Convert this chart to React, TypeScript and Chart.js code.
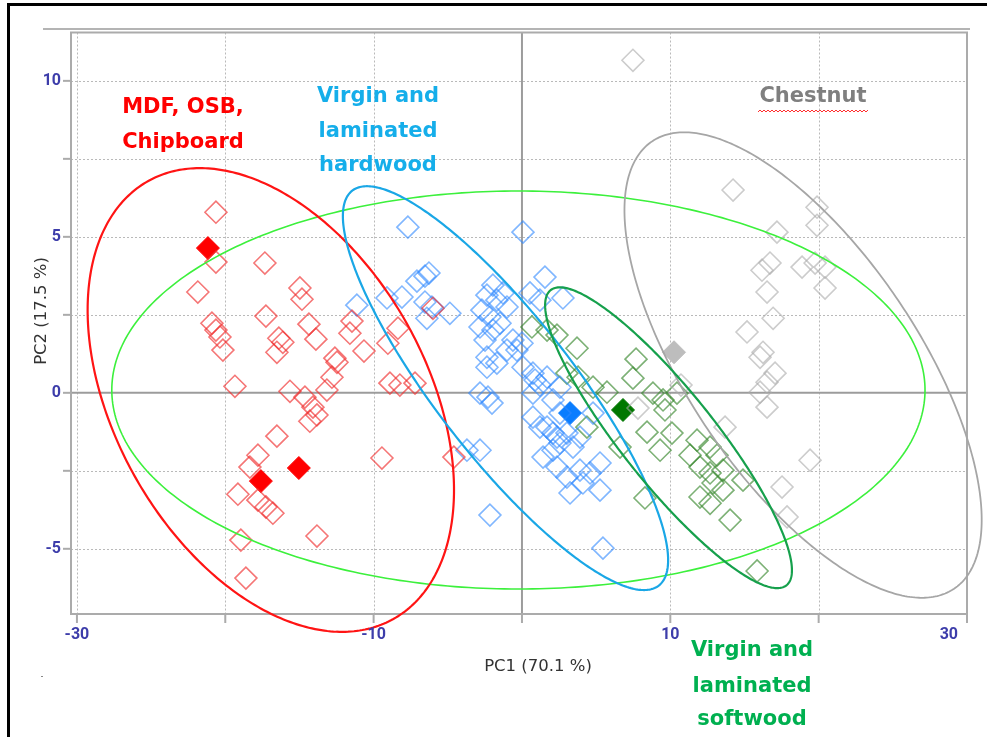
import React, { useEffect, useRef } from 'react';
import { Chart, registerables } from 'chart.js';

Chart.register(...registerables);

// ---- axis ticks ----
const X_TICKS = [-30, -20, -10, 0, 10, 20, 30];
const X_LABELS = [-30, -10, 10, 30];
const Y_TICKS = [-5, -2.5, 0, 2.5, 5, 7.5, 10];
const Y_LABELS = [-5, 0, 5, 10];
const X_RANGE = [-30.4, 30];
const Y_RANGE = [-7.09, 11.55];

// ---- scores (PC1, PC2) ----
const redPoints: [number, number][] = [
  [-20.63, 5.79], [-20.63, 4.19], [-21.85, 3.23], [-17.33, 4.16], [-14.97, 3.36], [-14.83, 3.0],
  [-17.26, 2.46], [-20.9, 2.23], [-20.63, 2.01], [-20.36, 1.79], [-20.16, 1.37], [-16.39, 1.75],
  [-16.12, 1.62], [-16.52, 1.3], [-14.36, 2.2], [-13.89, 1.72], [-11.46, 2.3], [-11.6, 1.91],
  [-10.65, 1.34], [-12.61, 1.11], [-12.47, 0.98], [-12.81, 0.5], [-19.35, 0.21], [-15.64, 0.05],
  [-14.63, -0.14], [-13.15, 0.09], [-14.09, -0.46], [-13.82, -0.71], [-14.3, -0.91], [-16.52, -1.39],
  [-17.8, -2.0], [-9.04, 1.59], [-8.36, 2.07], [-8.9, 0.31], [-8.23, 0.25], [-7.21, 0.31],
  [-9.44, -2.09], [-4.59, -2.06], [-6.0, 2.71], [-18.34, -2.38], [-19.15, -3.25], [-17.8, -3.44],
  [-17.26, -3.66], [-16.79, -3.86], [-18.95, -4.72], [-13.82, -4.59], [-18.61, -5.94],
];
const redFilled: [number, number][] = [[-21.17, 4.64], [-17.6, -2.83], [-15.04, -2.41]];

const bluePoints: [number, number][] = [
  [-7.69, 5.31], [0.07, 5.15], [1.55, 3.71], [-6.54, 3.74], [-6.27, 3.84], [-7.08, 3.58],
  [-9.1, 3.04], [-8.09, 3.07], [-11.13, 2.81], [-6.54, 2.91], [-6.07, 2.75], [-6.41, 2.39],
  [-4.86, 2.55], [-1.96, 3.45], [-2.36, 3.13], [-1.69, 2.97], [-1.28, 3.2], [-1.01, 2.75],
  [-2.7, 2.65], [-2.16, 2.43], [-1.48, 2.23], [-2.83, 2.11], [-1.96, 2.01], [0.54, 3.2],
  [2.76, 3.04], [1.21, 2.97], [-0.61, 1.69], [-1.01, 1.37], [-2.36, 1.14], [-1.69, 0.95],
  [-0.34, 1.37], [0.0, 1.59], [-2.36, 0.82], [-2.83, -0.01], [-2.29, -0.14], [-2.02, -0.33],
  [0.88, 0.41], [1.21, 0.25], [1.69, 0.5], [0.74, -0.01], [0.07, 0.82], [0.74, 0.63],
  [0.74, -0.78], [1.21, -1.1], [2.09, -1.29], [2.56, -1.61], [3.03, -1.29], [1.42, -2.06],
  [2.36, -2.38], [3.03, -2.7], [3.91, -2.48], [4.59, -2.57], [5.26, -2.25], [5.26, -3.12],
  [3.24, -3.21], [4.11, -2.89], [4.79, -0.65], [2.09, -0.23], [2.56, -0.65], [2.56, 0.18],
  [-3.71, -1.84], [-2.83, -1.84], [-2.16, -3.92], [5.46, -4.98], [2.36, -1.42], [3.44, -1.74],
  [3.91, -1.42], [2.09, -1.84], [-2.49, 1.69], [1.69, -1.1],
];
const blueFilled: [number, number][] = [[3.24, -0.65]];

const softPoints: [number, number][] = [
  [0.67, 2.11], [1.69, 2.01], [2.36, 1.85], [3.71, 1.43], [3.03, 0.63], [3.78, 0.5],
  [4.79, 0.18], [5.73, 0.02], [7.69, 1.08], [7.48, 0.47], [8.83, -0.01], [9.51, -0.23],
  [9.64, -0.55], [10.45, -0.01], [4.38, -1.1], [6.61, -1.74], [8.43, -1.26], [9.31, -1.84],
  [10.11, -1.29], [11.8, -1.52], [12.68, -1.74], [13.15, -2.0], [11.33, -2.0], [12.0, -2.38],
  [12.68, -2.57], [13.55, -2.48], [12.88, -2.89], [12.0, -3.34], [12.68, -3.54], [13.55, -3.12],
  [14.9, -2.8], [14.03, -4.08], [8.29, -3.37], [15.85, -5.71],
];
const softFilled: [number, number][] = [[6.81, -0.55]];

const chestnutPoints: [number, number][] = [
  [7.48, 10.66], [14.23, 6.5], [19.89, 5.95], [19.89, 5.37], [17.19, 5.15], [16.72, 4.16],
  [16.18, 3.93], [18.88, 4.03], [19.76, 4.16], [20.43, 4.03], [16.52, 3.23], [20.43, 3.36],
  [16.93, 2.39], [15.17, 1.95], [16.25, 1.3], [16.05, 1.14], [17.06, 0.63], [16.52, 0.34],
  [16.05, 0.02], [16.52, -0.46], [13.69, -1.1], [19.42, -2.16], [17.53, -3.02], [17.87, -3.98],
  [7.82, -0.49], [10.72, 0.25],
];
const chestnutFilled: [number, number][] = [[10.25, 1.3]];

// ---- confidence ellipses: centre (x, y), first semi-axis (dx, dy), second semi-axis (dx, dy) ----
const ellipseAll = [-0.24, 0.09, 27.41, 0, 0, 6.38];
const ellipseBoards = [-16.93, -0.23, 8.26, -7.02, -9.18, -2.44];
const ellipseHardwood = [-1.11, 0.15, 10.33, -6.33, -3.67, -1.35];
const ellipseSoftwood = [9.88, -1.44, 7.95, -4.73, -2.45, -0.93];
const ellipseChestnut = [18.95, 0.89, 10.18, -7.17, -6.43, -2.06];

const toXY = (pts: [number, number][]) => pts.map(([x, y]) => ({ x, y }));

export default function App() {
  const ref = useRef<HTMLCanvasElement | null>(null);

  useEffect(() => {
    document.body.style.margin = '0';
    const canvas = ref.current;
    if (!canvas) return;

    const decor = {
      id: 'decor',
      beforeDatasetsDraw(chart: any) {
        const { ctx, chartArea: a, scales } = chart;
        const xs = scales.x;
        const ys = scales.y;
        ctx.save();
        const seg = (x1: number, y1: number, x2: number, y2: number) => {
          ctx.beginPath();
          ctx.moveTo(x1, y1);
          ctx.lineTo(x2, y2);
          ctx.stroke();
        };
        // dotted grid
        ctx.strokeStyle = '#b9b9b9';
        ctx.lineWidth = 1;
        ctx.setLineDash([2, 2]);
        for (const v of X_TICKS) {
          if (v === 0 || v === 30) continue;
          const px = Math.round(xs.getPixelForValue(v)) + 0.5;
          seg(px, a.top, px, a.bottom);
        }
        for (const v of Y_TICKS) {
          if (v === 0) continue;
          const py = Math.round(ys.getPixelForValue(v)) + 0.5;
          seg(a.left, py, a.right, py);
        }
        ctx.setLineDash([]);
        // zero lines
        ctx.strokeStyle = '#9c9c9c';
        ctx.lineWidth = 2;
        const x0 = xs.getPixelForValue(0);
        const y0 = ys.getPixelForValue(0);
        seg(x0, a.top, x0, a.bottom);
        seg(a.left, y0, a.right, y0);
        // frame
        ctx.strokeStyle = '#ababab';
        ctx.lineWidth = 2;
        ctx.strokeRect(a.left, a.top, a.right - a.left, a.bottom - a.top);
        // tick marks
        for (const v of X_TICKS) {
          const px = xs.getPixelForValue(v);
          seg(px, a.bottom, px, a.bottom + 9);
        }
        for (const v of Y_TICKS) {
          const py = ys.getPixelForValue(v);
          seg(a.left - 8, py, a.left, py);
        }
        ctx.restore();
      },
      afterDatasetsDraw(chart: any) {
        const { ctx, scales } = chart;
        const xs = scales.x;
        const ys = scales.y;
        const drawEllipse = (e: number[], color: string, w: number) => {
          ctx.save();
          ctx.strokeStyle = color;
          ctx.lineWidth = w;
          ctx.beginPath();
          const n = 360;
          for (let i = 0; i <= n; i++) {
            const t = (i / n) * Math.PI * 2;
            const vx = e[0] + e[2] * Math.cos(t) + e[4] * Math.sin(t);
            const vy = e[1] + e[3] * Math.cos(t) + e[5] * Math.sin(t);
            const px = xs.getPixelForValue(vx);
            const py = ys.getPixelForValue(vy);
            if (i === 0) ctx.moveTo(px, py);
            else ctx.lineTo(px, py);
          }
          ctx.closePath();
          ctx.stroke();
          ctx.restore();
        };
        drawEllipse(ellipseAll, '#3cf03c', 1.6);
        drawEllipse(ellipseChestnut, '#a6a6a6', 1.8);
        drawEllipse(ellipseBoards, '#ff1414', 2.2);
        drawEllipse(ellipseHardwood, '#1aa7e6', 2.2);
        drawEllipse(ellipseSoftwood, '#16a04c', 2.2);
      },
      afterDraw(chart: any) {
        const { ctx, chartArea: a, scales } = chart;
        const xs = scales.x;
        const ys = scales.y;
        ctx.save();
        // tick labels
        ctx.fillStyle = '#3d3daa';
        ctx.font = 'bold 16px Roboto';
        ctx.textBaseline = 'middle';
        ctx.textAlign = 'right';
        for (const v of Y_LABELS) {
          ctx.fillText(String(v), a.left - 10, ys.getPixelForValue(v));
        }
        for (const v of X_LABELS) {
          const px = xs.getPixelForValue(v);
          if (v === 30) {
            ctx.textAlign = 'right';
            ctx.fillText(String(v), px - 9, a.bottom + 21);
          } else {
            ctx.textAlign = 'center';
            ctx.fillText(String(v), px, a.bottom + 21);
          }
        }
        // axis titles
        ctx.fillStyle = '#333333';
        ctx.font = '16.5px "DejaVu Sans"';
        ctx.textAlign = 'center';
        ctx.fillText('PC1 (70.1 %)', 538, 667);
        ctx.save();
        ctx.translate(42, 311);
        ctx.rotate(-Math.PI / 2);
        ctx.fillText('PC2 (17.5 %)', 0, 0);
        ctx.restore();
        // group annotations
        ctx.font = 'bold 21px "DejaVu Sans"';
        ctx.fillStyle = '#ff0000';
        ctx.fillText('MDF, OSB,', 183, 108);
        ctx.fillText('Chipboard', 183, 143);
        ctx.fillStyle = '#15aeea';
        ctx.fillText('Virgin and', 378, 97);
        ctx.fillText('laminated', 378, 132);
        ctx.fillText('hardwood', 378, 166);
        ctx.fillStyle = '#7f7f7f';
        ctx.fillText('Chestnut', 813, 97);
        ctx.fillStyle = '#00b050';
        ctx.fillText('Virgin and', 752, 651);
        ctx.fillText('laminated', 752, 687);
        ctx.fillText('softwood', 752, 720);
        // spell-check squiggle under "Chestnut"
        ctx.strokeStyle = '#ff3030';
        ctx.lineWidth = 1;
        ctx.beginPath();
        for (let px = 758, k = 0; px <= 868; px += 2, k++) {
          const py = 112 + (k % 2 === 0 ? 0 : -2);
          if (k === 0) ctx.moveTo(px, py);
          else ctx.lineTo(px, py);
        }
        ctx.stroke();
        // page borders
        ctx.fillStyle = '#000000';
        ctx.fillRect(7, 3, 3, 734);
        ctx.fillRect(7, 3, 980, 3);
        ctx.fillStyle = '#b4b4b4';
        ctx.fillRect(43, 28, 927, 2);
        ctx.fillStyle = '#888888';
        ctx.fillRect(41, 676, 2, 1);
        ctx.restore();
      },
    };

    const hollow = (pts: [number, number][], color: string) => ({
      data: toXY(pts),
      pointStyle: 'rectRot',
      pointRadius: 11,
      pointBorderWidth: 1.6,
      pointBorderColor: color,
      pointBackgroundColor: 'rgba(0,0,0,0)',
      showLine: false,
    });
    const filled = (pts: [number, number][], color: string) => ({
      data: toXY(pts),
      pointStyle: 'rectRot',
      pointRadius: 11.5,
      pointBorderWidth: 1,
      pointBorderColor: color,
      pointBackgroundColor: color,
      showLine: false,
    });

    const chart = new Chart(canvas, {
      type: 'scatter',
      data: {
        datasets: [
          hollow(chestnutPoints, 'rgba(170,170,170,0.6)'),
          hollow(redPoints, 'rgba(240,45,45,0.65)'),
          hollow(bluePoints, 'rgba(45,135,255,0.6)'),
          hollow(softPoints, 'rgba(55,135,45,0.65)'),
          filled(redFilled, '#ff0000'),
          filled(blueFilled, '#0a7dff'),
          filled(softFilled, '#007800'),
          filled(chestnutFilled, '#bdbdbd'),
        ] as any,
      },
      options: {
        responsive: false,
        animation: false,
        devicePixelRatio: 1,
        layout: { padding: { left: 71, top: 32.5, right: 20, bottom: 123 } },
        plugins: { legend: { display: false }, tooltip: { enabled: false } },
        scales: {
          x: { type: 'linear', min: X_RANGE[0], max: X_RANGE[1], display: false },
          y: { type: 'linear', min: Y_RANGE[0], max: Y_RANGE[1], display: false },
        },
      },
      plugins: [decor],
    });
    return () => chart.destroy();
  }, []);

  return (
    <div style={{ width: 987, height: 737, background: '#ffffff' }}>
      <canvas ref={ref} width={987} height={737} style={{ display: 'block' }} />
    </div>
  );
}
